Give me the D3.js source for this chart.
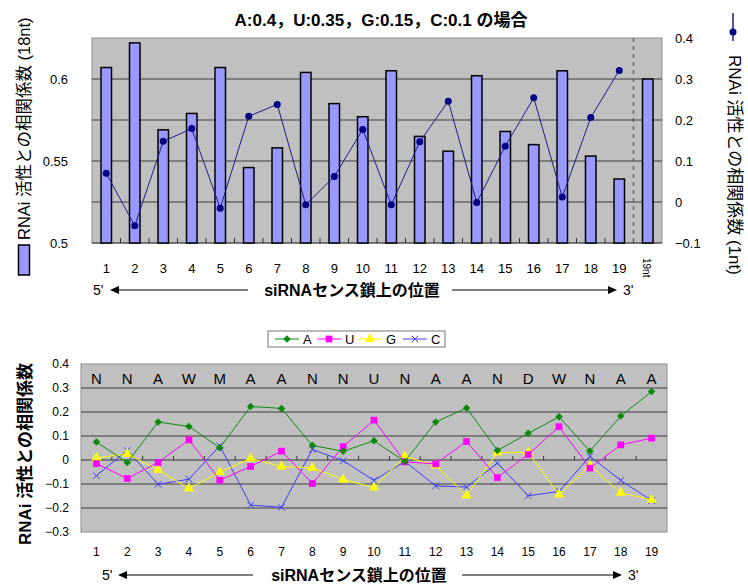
<!DOCTYPE html>
<html>
<head>
<meta charset="utf-8">
<script src="https://cdn.jsdelivr.net/npm/d3@7"></script>
<style>
  body { margin: 0; background: #fff; }
  svg { display: block; }
  text { font-family: "Liberation Sans", "Noto Sans CJK JP", sans-serif; fill: #000; }
</style>
</head>
<body>
<svg id="chart" width="748" height="585"></svg>
<script>
// ---- upper chart: correlation per position (18nt bars, 1nt line) ----
const positions = ["1","2","3","4","5","6","7","8","9","10","11","12","13","14","15","16","17","18","19","19nt"];
const corr18nt = [0.607,0.622,0.569,0.579,0.607,0.546,0.558,0.604,0.585,0.577,0.605,0.565,0.556,0.602,0.568,0.560,0.605,0.553,0.539,0.600];
const corr1nt = [0.070,-0.058,0.148,0.179,-0.015,0.209,0.238,-0.007,0.062,0.177,-0.007,0.147,0.246,-0.001,0.136,0.254,0.012,0.206,0.321];
const leftTicks = [0.5, 0.55, 0.6];
const leftGrid = [0.525, 0.55, 0.575, 0.6];
const rightTicks = [-0.1, 0, 0.1, 0.2, 0.3, 0.4];

// ---- lower chart: per-base correlation ----
const sites = ["1","2","3","4","5","6","7","8","9","10","11","12","13","14","15","16","17","18","19"];
const consensus = ["N","N","A","W","M","A","A","N","N","U","N","A","A","N","D","W","N","A","A"];
const baseA = [0.075,-0.010,0.158,0.140,0.051,0.223,0.215,0.061,0.036,0.080,-0.006,0.158,0.217,0.040,0.111,0.180,0.037,0.183,0.285];
const baseU = [-0.015,-0.077,-0.010,0.084,-0.084,-0.027,0.037,-0.098,0.056,0.166,-0.008,-0.016,0.077,-0.073,0.023,0.139,-0.034,0.063,0.091];
const baseG = [0.009,0.025,-0.041,-0.119,-0.051,0.006,-0.027,-0.033,-0.081,-0.115,0.015,-0.023,-0.148,0.031,0.031,-0.144,-0.024,-0.137,-0.166];
const baseC = [-0.065,0.040,-0.101,-0.080,0.059,-0.188,-0.197,0.044,-0.003,-0.085,-0.006,-0.108,-0.113,-0.013,-0.149,-0.131,0.015,-0.085,-0.169];
const lowerTicks = [-0.3, -0.2, -0.1, 0, 0.1, 0.2, 0.3, 0.4];
const lowerGrid = [-0.2, -0.1, 0.1, 0.2, 0.3];

const titleText = "A:0.4，U:0.35，G:0.15，C:0.1 の場合";
const axisCaption = "siRNAセンス鎖上の位置";

const svg = d3.select("#chart");
const plotBg = "#c0c0c0", gridCol = "#3c3c3c", frameCol = "#8c8c8c";

function arrowRow(y, x5, xl0, xl1, xCaption, xr0, xr1, x3, capSize) {
  const g = svg.append("g");
  g.append("text").attr("x", x5).attr("y", y).attr("dy", "0.35em").attr("font-size", 14).text("5'");
  g.append("line").attr("x1", xl0 + 7).attr("x2", xl1).attr("y1", y).attr("y2", y).attr("stroke", "#000").attr("stroke-width", 1);
  g.append("path").attr("d", `M${xl0},${y} L${xl0 + 9},${y - 4} L${xl0 + 9},${y + 4} Z`).attr("fill", "#000");
  g.append("text").attr("x", xCaption).attr("y", y).attr("dy", "0.35em").attr("text-anchor", "middle")
    .attr("font-size", capSize).attr("font-weight", "bold").text(axisCaption);
  g.append("line").attr("x1", xr0).attr("x2", xr1 - 7).attr("y1", y).attr("y2", y).attr("stroke", "#000").attr("stroke-width", 1);
  g.append("path").attr("d", `M${xr1},${y} L${xr1 - 9},${y - 4} L${xr1 - 9},${y + 4} Z`).attr("fill", "#000");
  g.append("text").attr("x", x3).attr("y", y).attr("dy", "0.35em").attr("font-size", 14).text("3'");
}

// ================= upper chart =================
{
  const L = 92, R = 662, T = 38, B = 243;
  const x = d3.scaleBand().domain(positions).range([L, R]);
  const yL = d3.scaleLinear().domain([0.5, 0.625]).range([B, T]);
  const yR = d3.scaleLinear().domain([-0.1, 0.4]).range([B, T]);
  const g = svg.append("g");

  g.append("rect").attr("x", L).attr("y", T).attr("width", R - L).attr("height", B - T)
    .attr("fill", plotBg).attr("stroke", frameCol).attr("stroke-width", 1);

  g.selectAll("line.grid").data(leftGrid).join("line").attr("class", "grid")
    .attr("x1", L).attr("x2", R).attr("y1", d => yL(d)).attr("y2", d => yL(d))
    .attr("stroke", gridCol).attr("stroke-width", 1);

  // tick marks on the category axis, pointing into the plot
  g.selectAll("line.tick").data(positions.slice(1)).join("line").attr("class", "tick")
    .attr("x1", d => x(d)).attr("x2", d => x(d)).attr("y1", B).attr("y2", B - 5)
    .attr("stroke", "#333").attr("stroke-width", 1);
  g.append("line").attr("x1", L).attr("x2", R).attr("y1", B).attr("y2", B).attr("stroke", "#333");

  // separator before the 19nt summary bar
  g.append("line").attr("x1", x("19nt")).attr("x2", x("19nt")).attr("y1", T).attr("y2", B)
    .attr("stroke", "#666").attr("stroke-width", 1.5).attr("stroke-dasharray", "4,4");

  const bw = 10.5;
  g.selectAll("rect.bar").data(corr18nt).join("rect").attr("class", "bar")
    .attr("x", (d, i) => x(positions[i]) + x.bandwidth() / 2 - bw / 2)
    .attr("y", d => yL(d)).attr("width", bw).attr("height", d => B - yL(d))
    .attr("fill", "#9999ff").attr("stroke", "#000").attr("stroke-width", 1.5);

  const line = d3.line().x((d, i) => x(positions[i]) + x.bandwidth() / 2).y(d => yR(d));
  g.append("path").datum(corr1nt).attr("d", line).attr("fill", "none")
    .attr("stroke", "#1c1c8a").attr("stroke-width", 1);
  g.selectAll("circle.pt").data(corr1nt).join("circle").attr("class", "pt")
    .attr("cx", (d, i) => x(positions[i]) + x.bandwidth() / 2).attr("cy", d => yR(d))
    .attr("r", 3.5).attr("fill", "#000080");

  // axis labels
  g.selectAll("text.yl").data(leftTicks).join("text").attr("class", "yl")
    .attr("x", 68).attr("y", d => yL(d)).attr("dy", "0.35em").attr("text-anchor", "end")
    .attr("font-size", 13).text(d => String(d));
  g.selectAll("text.yr").data(rightTicks).join("text").attr("class", "yr")
    .attr("x", 675).attr("y", d => yR(d)).attr("dy", "0.35em")
    .attr("font-size", 13).text(d => d3.format("")(d));
  g.selectAll("text.xl").data(positions.slice(0, 19)).join("text").attr("class", "xl")
    .attr("x", d => x(d) + x.bandwidth() / 2).attr("y", 268).attr("dy", "0.35em")
    .attr("text-anchor", "middle").attr("font-size", 13).text(d => d);
  g.append("text").attr("transform", `translate(${x("19nt") + x.bandwidth() / 2 - 1},${258}) rotate(90)`)
    .attr("dy", "0.35em").attr("font-size", 10).text("19nt");

  // title
  g.append("text").attr("x", 381).attr("y", 20).attr("dy", "0.35em").attr("text-anchor", "middle")
    .attr("font-size", 17).attr("font-weight", "bold").text(titleText);

  // left axis title with bar legend key
  const lt = g.append("g").attr("transform", "translate(24,275) rotate(-90)");
  lt.append("rect").attr("x", 0).attr("y", -5.5).attr("width", 30).attr("height", 11)
    .attr("fill", "#9999ff").attr("stroke", "#000").attr("stroke-width", 1.5);
  lt.append("text").attr("x", 35).attr("y", 0).attr("dy", "0.35em").attr("font-size", 16.5)
    .text("RNAi 活性との相関係数 (18nt)");

  // right axis title with line legend key
  g.append("line").attr("x1", 733).attr("x2", 733).attr("y1", 13).attr("y2", 41)
    .attr("stroke", "#1c1c8a").attr("stroke-width", 1.5);
  g.append("circle").attr("cx", 733).attr("cy", 32).attr("r", 3.5).attr("fill", "#000080");
  g.append("text").attr("transform", "translate(735,55) rotate(90)").attr("dy", "0.35em")
    .attr("font-size", 17).text("RNAi 活性との相関係数 (1nt)");

  arrowRow(290, 93, 110, 248, 352, 452, 617, 623, 16);
}

// ================= lower chart =================
{
  const L = 81, R = 667, T = 364, B = 532;
  const x = d3.scaleBand().domain(sites).range([L, R]);
  const y = d3.scaleLinear().domain([-0.3, 0.4]).range([B, T]);
  const cx = d => x(d) + x.bandwidth() / 2;
  const g = svg.append("g");

  g.append("rect").attr("x", L).attr("y", T).attr("width", R - L).attr("height", B - T)
    .attr("fill", plotBg).attr("stroke", frameCol).attr("stroke-width", 1);
  g.selectAll("line.grid").data(lowerGrid).join("line").attr("class", "grid")
    .attr("x1", L).attr("x2", R).attr("y1", d => y(d)).attr("y2", d => y(d))
    .attr("stroke", gridCol).attr("stroke-width", 1);
  g.append("line").attr("x1", L).attr("x2", R).attr("y1", y(0)).attr("y2", y(0)).attr("stroke", "#333");
  g.selectAll("line.tick").data(sites.slice(1)).join("line").attr("class", "tick")
    .attr("x1", d => x(d)).attr("x2", d => x(d)).attr("y1", y(0)).attr("y2", y(0) - 4)
    .attr("stroke", "#333");

  g.selectAll("text.cons").data(consensus).join("text").attr("class", "cons")
    .attr("x", (d, i) => cx(sites[i])).attr("y", 378.5).attr("dy", "0.35em")
    .attr("text-anchor", "middle").attr("font-size", 15).text(d => d);

  const series = [
    { name: "A", values: baseA, color: "#0a8a0a", shape: d3.symbolDiamond2, size: 36 },
    { name: "U", values: baseU, color: "#ff00ff", shape: d3.symbolSquare, size: 45 },
    { name: "G", values: baseG, color: "#ffff00", shape: d3.symbolTriangle, size: 45 },
    { name: "C", values: baseC, color: "#3c3cff", shape: d3.symbolX, size: 30 }
  ];
  const line = d3.line().x((d, i) => cx(sites[i])).y(d => y(d));
  // draw in reverse so A ends up on top
  series.slice().reverse().forEach(s => {
    g.append("path").datum(s.values).attr("d", line).attr("fill", "none")
      .attr("stroke", s.color).attr("stroke-width", 1);
    const sym = d3.symbol().type(s.shape).size(s.size);
    g.selectAll(null).data(s.values).join("path")
      .attr("transform", (d, i) => `translate(${cx(sites[i])},${y(d)})`)
      .attr("d", sym())
      .attr("fill", s.shape === d3.symbolX ? "none" : s.color)
      .attr("stroke", s.color).attr("stroke-width", s.shape === d3.symbolX ? 1 : 0);
  });

  g.selectAll("text.yl").data(lowerTicks).join("text").attr("class", "yl")
    .attr("x", 69).attr("y", d => y(d)).attr("dy", "0.35em").attr("text-anchor", "end")
    .attr("font-size", 12).text(d => d3.format("")(d));
  g.selectAll("text.xl").data(sites).join("text").attr("class", "xl")
    .attr("x", d => cx(d)).attr("y", 552).attr("dy", "0.35em").attr("text-anchor", "middle")
    .attr("font-size", 12).text(d => d);

  g.append("text").attr("transform", "translate(25,454) rotate(-90)").attr("dy", "0.35em")
    .attr("text-anchor", "middle").attr("font-size", 17).attr("font-weight", "bold")
    .text("RNAi 活性との相関係数");

  // legend
  const lg = g.append("g");
  lg.append("rect").attr("x", 268).attr("y", 331).attr("width", 177).attr("height", 16)
    .attr("fill", "#fff").attr("stroke", "#777").attr("stroke-width", 1);
  const lx = [275, 317, 358, 403];
  series.forEach((s, i) => {
    const x0 = lx[i];
    lg.append("line").attr("x1", x0).attr("x2", x0 + 24).attr("y1", 339).attr("y2", 339)
      .attr("stroke", s.color).attr("stroke-width", 1);
    lg.append("path").attr("transform", `translate(${x0 + 12},339)`)
      .attr("d", d3.symbol().type(s.shape).size(s.size)())
      .attr("fill", s.shape === d3.symbolX ? "none" : s.color)
      .attr("stroke", s.color).attr("stroke-width", s.shape === d3.symbolX ? 1 : 0);
    lg.append("text").attr("x", x0 + 28).attr("y", 339).attr("dy", "0.35em")
      .attr("font-size", 13).text(s.name);
  });

  arrowRow(575, 102, 118, 253, 359, 462, 622, 628, 16);
}
</script>
</body>
</html>
